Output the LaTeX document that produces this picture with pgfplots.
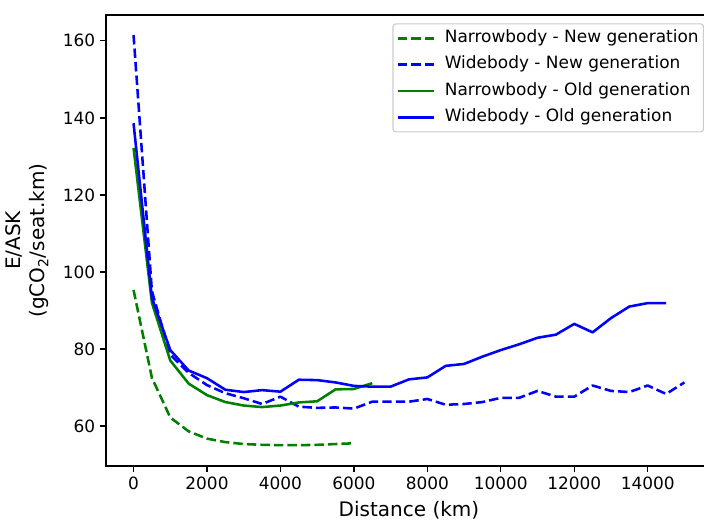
\documentclass[border=0pt]{standalone}
\usepackage{fontspec}
\setmainfont{DejaVu Sans}
\usepackage{pgfplots}
\pgfplotsset{compat=1.18}

\definecolor{mplgreen}{RGB}{0,128,0}
\definecolor{mplblue}{RGB}{0,0,255}

\begin{document}
\begin{tikzpicture}
\begin{axis}[
    at={(0,0)}, anchor=south west,
    scale only axis,
    width=436.3pt, height=324.7pt,
    xmin=-750, xmax=15750,
    ymin=49.6, ymax=166.7,
    xtick={0,2000,...,14000},
    ytick={60,80,...,160},
    scaled x ticks=false,
    /pgf/number format/1000 sep={},
    /pgf/number format/assume math mode=true,
    tick align=outside,
    tick pos=left,
    major tick length=4.3pt,
    every tick/.style={black, line width=0.97pt},
    axis line style={line width=0.97pt},
    ticklabel style={font=\fontsize{12.2}{14.6}\selectfont},
    xlabel={Distance (km)},
    ylabel={E/ASK\\(gCO\textsubscript{2}/seat.km)},
    label style={font=\fontsize{14.4}{17.3}\selectfont},
    xlabel style={yshift=-1.2pt},
    ylabel style={at={(axis description cs:-0.0935,0.5)}, anchor=south, inner sep=0pt, align=center},
    legend cell align=left,
    legend style={at={(0.987,0.9815)}, anchor=north east,
        draw=black!20, line width=0.8pt, rounded corners=2pt,
        fill=white, fill opacity=0.8, text opacity=1,
        font=\fontsize{12.2}{14.6}\selectfont,
        inner xsep=2.5pt, inner ysep=3.5pt,
        nodes={inner sep=1pt, text height=9pt, text depth=3pt},
        row sep=4.9pt,
        /tikz/every odd column/.append style={column sep=6pt}},
    legend image code/.code={\draw[#1, line width=1.84pt] (0pt,0pt) -- (26pt,0pt);},
    every axis plot/.append style={line width=1.84pt, line join=round},
]
\addplot[mplgreen, dash pattern=on 6.8pt off 2.94pt] coordinates {
    (0,95.3) (500,72.5) (1000,62.2) (1500,58.6) (2000,56.7) (2500,55.8)
    (3000,55.3) (3500,55.1) (4000,55.0) (4500,55.0) (5000,55.1)
    (5500,55.3) (6000,55.5)
};
\addlegendentry{Narrowbody - New generation}
\addplot[mplblue, dash pattern=on 6.8pt off 2.94pt] coordinates {
    (0,161.5) (500,95.0) (1000,78.5) (1500,73.8) (2000,70.6) (2500,68.5)
    (3000,67.2) (3500,65.7) (4000,67.6) (4500,65.0) (5000,64.7)
    (5500,64.8) (6000,64.5) (6500,66.3) (7000,66.3) (7500,66.3)
    (8000,67.0) (8500,65.5) (9000,65.7) (9500,66.2) (10000,67.3)
    (10500,67.3) (11000,69.1) (11500,67.6) (12000,67.6) (12500,70.5)
    (13000,69.1) (13500,68.8) (14000,70.5) (14500,68.3) (15000,71.3)
};
\addlegendentry{Widebody - New generation}
\addplot[mplgreen] coordinates {
    (0,132.2) (500,92.0) (1000,77.0) (1500,71.0) (2000,68.0) (2500,66.2)
    (3000,65.3) (3500,64.9) (4000,65.3) (4500,66.1) (5000,66.4)
    (5500,69.5) (6000,69.6) (6500,71.1)
};
\addlegendentry{Narrowbody - Old generation}
\addplot[mplblue] coordinates {
    (0,138.6) (500,93.3) (1000,79.7) (1500,74.4) (2000,72.4) (2500,69.4)
    (3000,68.8) (3500,69.3) (4000,68.9) (4500,72.0) (5000,71.9)
    (5500,71.3) (6000,70.4) (6500,70.2) (7000,70.2) (7500,72.1)
    (8000,72.6) (8500,75.6) (9000,76.1) (9500,78.0) (10000,79.7)
    (10500,81.2) (11000,82.9) (11500,83.7) (12000,86.5) (12500,84.3)
    (13000,88.0) (13500,91.0) (14000,91.9) (14500,91.9)
};
\addlegendentry{Widebody - Old generation}
\end{axis}
\pgfresetboundingbox
\useasboundingbox (-76.32pt,-38.88pt) rectangle (430.56pt,335.52pt);
\end{tikzpicture}
\end{document}
